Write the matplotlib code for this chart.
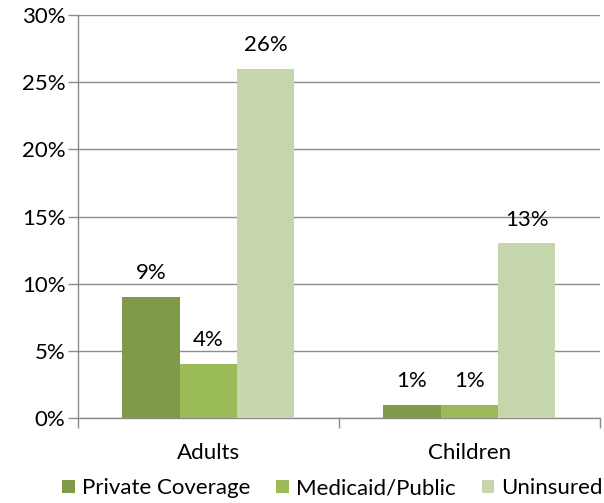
import numpy as np
import matplotlib.pyplot as plt
from matplotlib.ticker import PercentFormatter

plt.rcParams['font.family'] = ['Lato', 'DejaVu Sans']

categories = ["Adults", "Children"]
series = ["Private Coverage", "Medicaid/Public", "Uninsured"]
private = [9, 1]
medicaid = [4, 1]
uninsured = [26, 13]
colors = ["#7F9A48", "#9BBB59", "#C6D6AC"]

fig = plt.figure(figsize=(6.04, 5.03), dpi=100)
ax = fig.add_axes([0.129, 0.169, 0.864, 0.801])

x = np.arange(len(categories))
w = 0.22
fs = 16
for i, (vals, name) in enumerate(zip([private, medicaid, uninsured], series)):
    bars = ax.bar(x + (i - 1) * w, vals, width=w, color=colors[i], label=name, zorder=3)
    for b, v in zip(bars, vals):
        ax.annotate(f"{v}%", (b.get_x() + b.get_width() / 2, v), xytext=(0, 10),
                    textcoords="offset points", ha="center", va="bottom", fontsize=fs)

ax.set_xlim(-0.5, 1.5)
ax.set_ylim(0, 30)
ax.set_yticks(np.arange(0, 31, 5))
ax.yaxis.set_major_formatter(PercentFormatter(decimals=0))
ax.grid(axis="y", color="#8C8C8C", linewidth=1, zorder=0)

ax.set_xticks(x)
ax.set_xticklabels(categories)
ax.set_xticks([-0.5, 0.5, 1.5], minor=True)
ax.tick_params(axis="x", which="major", length=0, pad=18, labelsize=fs)
ax.tick_params(axis="x", which="minor", length=7, color="#8C8C8C", width=1)
ax.tick_params(axis="y", length=7, color="#8C8C8C", width=1, labelsize=fs, pad=2)

for s in ["top", "right"]:
    ax.spines[s].set_visible(False)
for s in ["left", "bottom"]:
    ax.spines[s].set_color("#8C8C8C")
    ax.spines[s].set_linewidth(1)

fig.legend(loc="lower center", bbox_to_anchor=(0.551, -0.03), ncol=3, frameon=False,
           fontsize=fs, handlelength=0.55, handleheight=0.55, handletextpad=0.35,
           columnspacing=1.15)

fig.savefig("out.png", dpi=100)
